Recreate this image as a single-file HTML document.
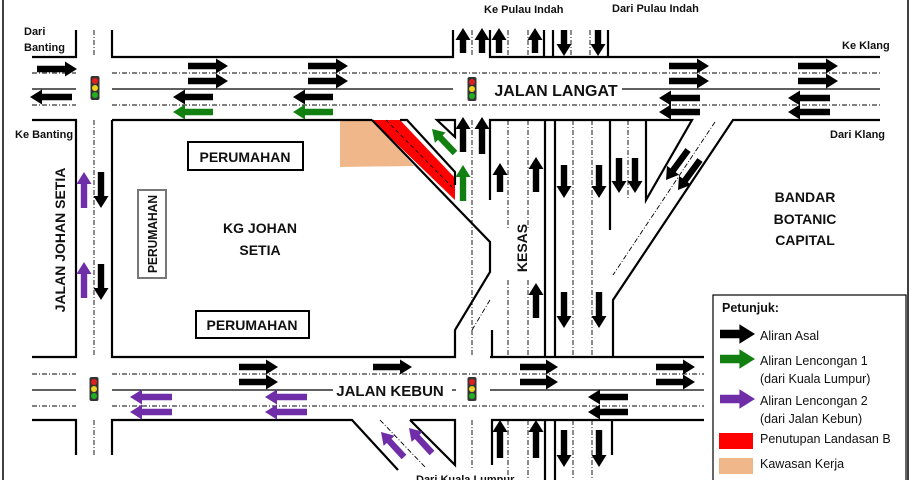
<!DOCTYPE html>
<html><head><meta charset="utf-8"><style>
html,body{margin:0;padding:0;background:#fff;}
svg{display:block;}
text{font-family:"Liberation Sans",sans-serif;font-weight:bold;fill:#111;}
</style></head><body>
<svg id="s" width="914" height="480" viewBox="0 0 914 480" xmlns="http://www.w3.org/2000/svg">
<rect x="0" y="0" width="914" height="480" fill="#fff"/>
<line x1="3" y1="0" x2="3" y2="480" stroke="#000" stroke-width="1.5"/>
<line x1="908" y1="0" x2="908" y2="480" stroke="#000" stroke-width="1.5"/>

<polygon points="340,120 372,120 414,166 340,167" fill="#f0b88a"/>
<polygon points="372,120 400,120 455,178 455,200" fill="#ff0000"/>
<line x1="386" y1="120" x2="455" y2="190" stroke="#000" stroke-width="0.8" stroke-dasharray="4,3"/>

<g stroke="#000" stroke-width="2.2" fill="none">
<polyline points="32,57 76,57 76,30"/>
<polyline points="112,30 112,57 453,57 453,30"/>
<polyline points="490,30 490,57 880,57"/>
<polyline points="32,120 76,120 76,357 32,357"/>
<polyline points="112,120 372,120"/>
<polyline points="372,120 490,242 490,272 455,330 455,357 112,357 112,120"/>
<polyline points="400,120 407,120 455,172 455,185"/>
<polygon points="437,120 455,120 455,137"/>
<polyline points="490,200 490,120 692,120 646,200 646,120"/>
<polyline points="880,120 733,120 613,300 613,357"/>
<polyline points="490,357 492,357 492,330"/>
<line x1="608" y1="30" x2="608" y2="57"/>
<line x1="545" y1="120" x2="545" y2="357"/>
<line x1="555" y1="120" x2="555" y2="357"/>
<line x1="610" y1="120" x2="610" y2="230"/>
<line x1="544" y1="30" x2="544" y2="57"/>
<line x1="553" y1="30" x2="553" y2="57"/>
<polyline points="32,420 76,420 76,455"/>
<polyline points="112,455 112,420 352,420 398,470"/>
<polyline points="410,420 455,420 455,465 410,420"/>
<polyline points="492,465 492,420 704,420"/>
<line x1="492" y1="357" x2="704" y2="357"/>
<line x1="545" y1="420" x2="545" y2="480"/>
<line x1="555" y1="420" x2="555" y2="480"/>
<line x1="612" y1="420" x2="612" y2="455"/>
</g>
<g stroke="#000" stroke-width="1.2">
<line x1="32" y1="89" x2="76" y2="89"/>
<line x1="112" y1="89" x2="453" y2="89"/>
<line x1="622" y1="89" x2="880" y2="89"/>
<line x1="32" y1="390" x2="76" y2="390"/>
<line x1="112" y1="390" x2="333" y2="390"/>
<line x1="490" y1="390" x2="704" y2="390"/>
<line x1="452" y1="390" x2="456" y2="390"/>
</g>
<g stroke="#000" stroke-width="0.9" stroke-dasharray="5,2,1,2" fill="none">
<line x1="32" y1="73" x2="76" y2="73"/><line x1="112" y1="73" x2="880" y2="73"/>
<line x1="32" y1="105" x2="76" y2="105"/><line x1="112" y1="105" x2="880" y2="105"/>
<line x1="32" y1="374" x2="76" y2="374"/><line x1="112" y1="374" x2="704" y2="374"/>
<line x1="32" y1="406" x2="76" y2="406"/><line x1="112" y1="406" x2="704" y2="406"/>
<line x1="94" y1="30" x2="94" y2="57"/><line x1="94" y1="120" x2="94" y2="357"/><line x1="94" y1="420" x2="94" y2="455"/>
<line x1="472" y1="30" x2="472" y2="57"/><line x1="472" y1="120" x2="472" y2="357"/><line x1="472" y1="420" x2="472" y2="470"/>
<line x1="508" y1="30" x2="508" y2="57"/><line x1="528" y1="30" x2="528" y2="57"/>
<line x1="571" y1="30" x2="571" y2="57"/><line x1="590" y1="30" x2="590" y2="57"/>
<line x1="508" y1="120" x2="508" y2="230"/><line x1="528" y1="120" x2="528" y2="230"/>
<line x1="508" y1="280" x2="508" y2="357"/><line x1="528" y1="280" x2="528" y2="357"/>
<line x1="573" y1="120" x2="573" y2="357"/><line x1="592" y1="120" x2="592" y2="357"/>
<line x1="628" y1="120" x2="628" y2="200"/>
<line x1="715" y1="122" x2="613" y2="275"/>
<line x1="490" y1="300" x2="472" y2="330"/>
<line x1="508" y1="420" x2="508" y2="480"/><line x1="528" y1="420" x2="528" y2="480"/>
<line x1="573" y1="420" x2="573" y2="480"/><line x1="592" y1="420" x2="592" y2="480"/>
<line x1="380" y1="420" x2="425" y2="467"/>
</g>

<rect x="188" y="142" width="115" height="28" fill="#fff" stroke="#000" stroke-width="2"/>
<text x="245" y="162" font-size="14" text-anchor="middle">PERUMAHAN</text>
<rect x="138" y="190" width="28" height="88" fill="#fff" stroke="#777" stroke-width="2"/>
<text transform="translate(157,234) rotate(-90)" font-size="12.5" text-anchor="middle" textLength="78" lengthAdjust="spacingAndGlyphs">PERUMAHAN</text>
<rect x="196" y="311" width="113" height="27" fill="#fff" stroke="#000" stroke-width="2"/>
<text x="252" y="330" font-size="14" text-anchor="middle">PERUMAHAN</text>
<text x="260" y="233" font-size="14" text-anchor="middle">KG JOHAN</text>
<text x="260" y="255" font-size="14" text-anchor="middle">SETIA</text>
<text x="805" y="202" font-size="14" text-anchor="middle">BANDAR</text>
<text x="805" y="224" font-size="14" text-anchor="middle">BOTANIC</text>
<text x="805" y="245" font-size="14" text-anchor="middle">CAPITAL</text>
<text transform="translate(527,248) rotate(-90)" font-size="14" text-anchor="middle">KESAS</text>
<text transform="translate(65,240) rotate(-90)" font-size="14" text-anchor="middle">JALAN JOHAN SETIA</text>
<rect x="500" y="80" width="116" height="20" fill="#fff"/>
<text x="556" y="96" font-size="16" text-anchor="middle">JALAN LANGAT</text>
<text x="390" y="396" font-size="15" text-anchor="middle">JALAN KEBUN</text>

<g font-size="11">
<text x="24" y="35">Dari</text><text x="24" y="51">Banting</text>
<text x="15" y="138">Ke Banting</text>
<text x="484" y="13">Ke Pulau Indah</text>
<text x="612" y="12">Dari Pulau Indah</text>
<text x="842" y="49">Ke Klang</text>
<text x="830" y="138">Dari Klang</text>
<text x="416" y="483">Dari Kuala Lumpur</text>
</g>

<rect x="713" y="295" width="193" height="190" fill="#fff" stroke="#000" stroke-width="1.2"/>
<g font-size="12.5">
<text x="722" y="312" style="font-weight:bold">Petunjuk:</text>
<text x="760" y="340" style="font-weight:normal">Aliran Asal</text>
<text x="760" y="365" style="font-weight:normal">Aliran Lencongan 1</text>
<text x="760" y="383" style="font-weight:normal">(dari Kuala Lumpur)</text>
<text x="760" y="405" style="font-weight:normal">Aliran Lencongan 2</text>
<text x="760" y="423" style="font-weight:normal">(dari Jalan Kebun)</text>
<text x="760" y="443" style="font-weight:normal">Penutupan Landasan B</text>
<text x="760" y="468" style="font-weight:normal">Kawasan Kerja</text>
</g>
<rect x="719" y="433" width="34" height="16" fill="#ff0000"/>
<rect x="719" y="458" width="34" height="16" fill="#f0b88a"/>
<g id="arrows"></g>
<g id="lights"></g>
</svg>
<script>
var NS="http://www.w3.org/2000/svg";
var g=document.getElementById("arrows");
function A(x1,y1,x2,y2,c,s){
 s=s||1;
 var dx=x2-x1,dy=y2-y1,L=Math.sqrt(dx*dx+dy*dy),ux=dx/L,uy=dy/L,px=-uy,py=ux;
 var h=12*s,w=3.2*s,hw=7.5*s;
 var bx=x2-ux*h,by=y2-uy*h;
 var pts=[[x1+px*w,y1+py*w],[bx+px*w,by+py*w],[bx+px*hw,by+py*hw],[x2,y2],[bx-px*hw,by-py*hw],[bx-px*w,by-py*w],[x1-px*w,y1-py*w]];
 var p=document.createElementNS(NS,"polygon");
 p.setAttribute("points",pts.map(function(a){return a[0].toFixed(1)+","+a[1].toFixed(1)}).join(" "));
 p.setAttribute("fill",c);g.appendChild(p);
}
var K="#000",G="#118011",P="#6f2da8";
A(37,69,77,69,K);A(72,97,30,97,K);
[[188,228],[308,348],[669,709],[798,838]].forEach(function(a){A(a[0],66,a[1],66,K);A(a[0],81,a[1],81,K);});
[[213,173],[333,293]].forEach(function(a){A(a[0],97,a[1],97,K);A(a[0],112,a[1],112,G);});
[[700,659],[830,788]].forEach(function(a){A(a[0],98,a[1],98,K);A(a[0],112,a[1],112,K);});
[463,482,499,535].forEach(function(x){A(x,53,x,28,K);});
[564,598].forEach(function(x){A(x,30,x,56,K);});
A(463,152,463,117,K);A(482,154,482,117,K);
A(455,153,432,129,G);A(463,201,463,165,G);
A(500,192,500,163,K);A(536,192,536,157,K);
[564,599].forEach(function(x){A(x,165,x,198,K);});
[619,635].forEach(function(x){A(x,158,x,193,K);});
A(688,150,666,180,K);A(700,160,678,190,K);
A(536,318,536,283,K);A(564,292,564,328,K);A(599,292,599,328,K);
A(84,208,84,172,P);A(84,298,84,262,P);A(101,172,101,208,K);A(101,264,101,300,K);
[[239,278],[520,558],[656,695]].forEach(function(a){A(a[0],367,a[1],367,K);A(a[0],382,a[1],382,K);});
A(373,367,412,367,K);
[[172,130],[307,265]].forEach(function(a){A(a[0],397,a[1],397,P);A(a[0],412,a[1],412,P);});
A(628,397,588,397,K);A(628,412,588,412,K);
A(404,457,381,432,P);A(432,453,409,428,P);
A(500,458,500,420,K);A(536,458,536,420,K);A(564,430,564,467,K);A(599,430,599,467,K);
A(720,334,755,334,K,1.3);A(720,359,755,359,G,1.3);A(720,399,755,399,P,1.3);
var l=document.getElementById("lights");
[[95,88],[472,89],[94,389],[472,389]].forEach(function(c){
 var r=document.createElementNS(NS,"rect");r.setAttribute("x",c[0]-4.5);r.setAttribute("y",c[1]-12);r.setAttribute("width",9);r.setAttribute("height",24);r.setAttribute("rx",2);r.setAttribute("fill","#333");l.appendChild(r);
 ["#e02020","#f0d020","#20b020"].forEach(function(col,i){var ci=document.createElementNS(NS,"circle");ci.setAttribute("cx",c[0]);ci.setAttribute("cy",c[1]-7+i*7);ci.setAttribute("r",3);ci.setAttribute("fill",col);l.appendChild(ci);});
});
</script>
</body></html>
